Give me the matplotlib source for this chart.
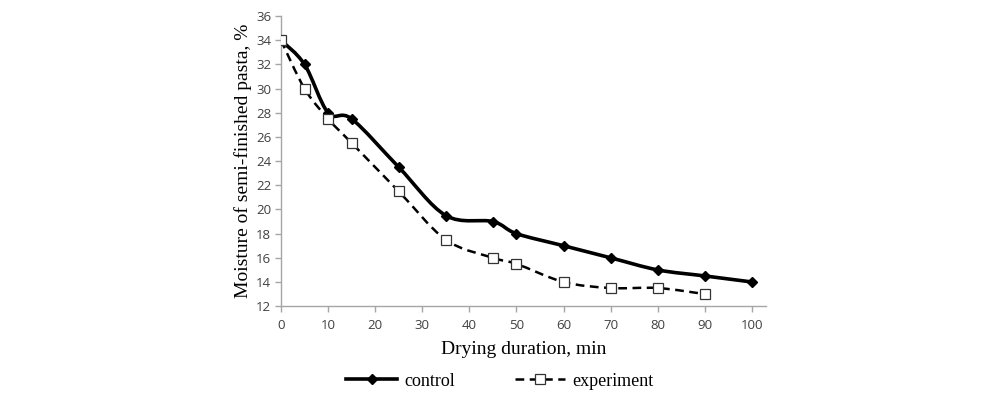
import numpy as np
import matplotlib.pyplot as plt
from matplotlib.path import Path
from matplotlib.patches import PathPatch
from matplotlib.lines import Line2D

# data
time_control = [0, 5, 10, 15, 25, 35, 45, 50, 60, 70, 80, 90, 100]
moist_control = [34, 32, 28, 27.5, 23.5, 19.5, 19, 18, 17, 16, 15, 14.5, 14]
time_exp = [0, 5, 10, 15, 25, 35, 45, 50, 60, 70, 80, 90]
moist_exp = [34, 30, 27.5, 25.5, 21.5, 17.5, 16, 15.5, 14, 13.5, 13.5, 13]
x_ticks = list(range(0, 101, 10))
y_ticks = list(range(12, 37, 2))


def smooth_path(xs, ys, tension=1/6):
    # Excel-style smoothed line: cubic bezier segments through every point
    pts = np.column_stack([xs, ys]).astype(float)
    verts = [pts[0]]
    codes = [Path.MOVETO]
    n = len(pts)
    for i in range(n - 1):
        p0 = pts[i - 1] if i > 0 else pts[i]
        p1 = pts[i]
        p2 = pts[i + 1]
        p3 = pts[i + 2] if i + 2 < n else pts[i + 1]
        c1 = p1 + (p2 - p0) * tension
        c2 = p2 - (p3 - p1) * tension
        verts += [c1, c2, p2]
        codes += [Path.CURVE4] * 3
    return Path(verts, codes)


fig = plt.figure(figsize=(10, 3.93), dpi=100)
ax = fig.add_axes([0.281, 0.221, 0.485, 0.738])

ax.add_patch(PathPatch(smooth_path(time_control, moist_control), fill=False,
                       edgecolor='black', linewidth=2.6, zorder=3))
ax.add_patch(PathPatch(smooth_path(time_exp, moist_exp), fill=False,
                       edgecolor='black', linewidth=1.8, linestyle=(0, (3.5, 2.2)), zorder=3))
ax.plot(time_control, moist_control, linestyle='none', marker='D', markersize=5.5,
        color='black', zorder=4)
ax.plot(time_exp, moist_exp, linestyle='none', marker='s', markersize=7.5,
        markerfacecolor='white', markeredgecolor='#333333', markeredgewidth=0.9, zorder=4)

ax.set_xlim(0, 103)
ax.set_ylim(12, 36)
ax.set_xticks(x_ticks)
ax.set_yticks(y_ticks)
for s in ['top', 'right']:
    ax.spines[s].set_visible(False)
for s in ['left', 'bottom']:
    ax.spines[s].set_color('#a6a6a6')
    ax.spines[s].set_linewidth(1.0)
ax.tick_params(axis='both', colors='#a6a6a6', length=4, width=1.0,
               labelcolor='#404040', labelsize=9.5)
for lab in ax.get_xticklabels() + ax.get_yticklabels():
    lab.set_family('Open Sans')
ax.tick_params(axis='x', pad=5)
ax.tick_params(axis='y', pad=3)

ax.set_xlabel('Drying duration, min', fontfamily='Liberation Serif', fontsize=14, labelpad=7)
ax.set_ylabel('Moisture of semi-finished pasta, %', fontfamily='Liberation Serif',
              fontsize=14, labelpad=3)

handles = [
    Line2D([], [], color='black', linewidth=2.6, marker='D', markersize=5.5),
    Line2D([], [], color='black', linewidth=1.8, linestyle=(0, (3.5, 2.2)), marker='s',
           markersize=7, markerfacecolor='white', markeredgecolor='#333333', markeredgewidth=0.9),
]
fig.legend(handles, ['control', 'experiment'], loc='center', bbox_to_anchor=(0.5, 0.03),
           ncol=2, frameon=False, prop={'family': 'Liberation Serif', 'size': 13},
           columnspacing=3.3, handlelength=2.8, handletextpad=0.4)

fig.savefig('out.png', dpi=100)
